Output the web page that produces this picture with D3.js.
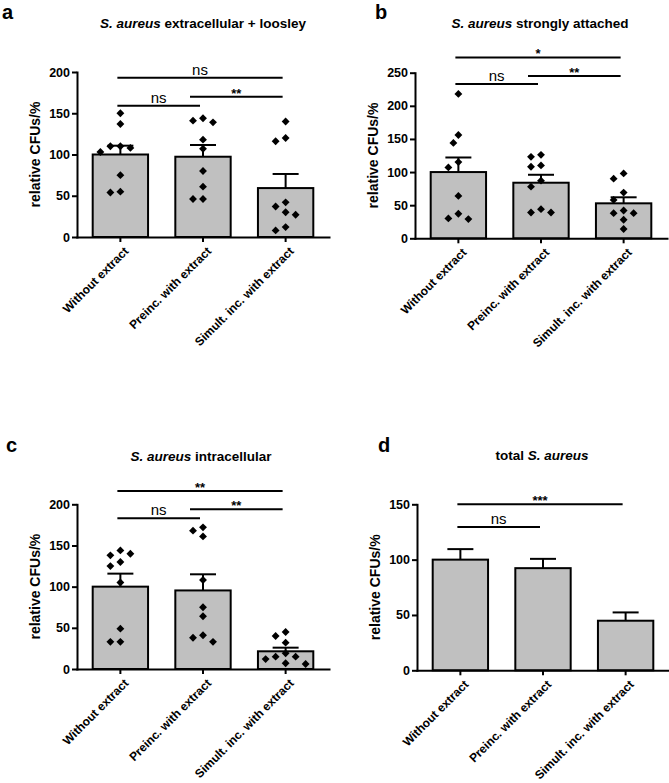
<!DOCTYPE html>
<html>
<head>
<meta charset="utf-8">
<script src="https://cdn.jsdelivr.net/npm/d3@7"></script>
<style>
  body { margin: 0; background: #fff; }
  text { font-family: "Liberation Sans", Arial, sans-serif; fill: #000; }
</style>
</head>
<body>
<svg id="fig" width="669" height="783"></svg>
<script>
// group names on the x axis (same for every panel)
var groups = ['Without extract', 'Preinc. with extract', 'Simult. inc. with extract']

// panel a: extracellular + loosely attached
var aMean = [100, 97.3, 59.3]
var aSem = [10.7, 14.2, 17.1]
var aPoints = [
  [150, 137, 110, 110, 108, 103, 75, 55, 54],
  [144, 141, 139, 118, 107, 80, 61, 46, 46],
  [140, 120, 116, 42, 37, 30, 27, 12, 8]
]
var aTicks = [0, 50, 100, 150, 200]
var aSig = [
  { from: 0, to: 2, label: 'ns', level: 193 },
  { from: 1, to: 2, label: '**', level: 170 },
  { from: 0, to: 1, label: 'ns', level: 159 }
]

// panel b: strongly attached
var bMean = [100, 83.9, 52.8]
var bSem = [22, 12, 9.1]
var bPoints = [
  [218, 156, 144, 115, 107, 64, 37, 30, 29],
  [126, 123, 110, 108, 87, 78, 44, 39, 39],
  [98, 90, 69, 58, 42, 38, 38, 28, 14]
]
var bTicks = [0, 50, 100, 150, 200, 250]
var bSig = [
  { from: 0, to: 2, label: '*', level: 273 },
  { from: 1, to: 2, label: '**', level: 245 },
  { from: 0, to: 1, label: 'ns', level: 233 }
]

// panel c: intracellular
var cMean = [100, 95.4, 21.5]
var cSem = [15.8, 19.6, 4.4]
var cPoints = [
  [144, 138, 140, 130, 125, 105, 49, 33, 33],
  [172, 168, 161, 108, 75, 64, 41, 38, 33],
  [45, 40, 32, 19, 15, 15, 12, 7, 6]
]
var cTicks = [0, 50, 100, 150, 200]
var cSig = [
  { from: 0, to: 2, label: '**', level: 216 },
  { from: 1, to: 2, label: '**', level: 194 },
  { from: 0, to: 1, label: 'ns', level: 183 }
]

// panel d: total (no single points)
var dMean = [100, 92.3, 44.8]
var dSem = [9.5, 8.4, 7.5]
var dTicks = [0, 50, 100, 150]
var dSig = [
  { from: 0, to: 2, label: '***', level: 150 },
  { from: 0, to: 1, label: 'ns', level: 129.6 }
]

// layout of the four panels
var panels = [
  { letter: 'a', lx: 2, ly: 19, title: ['S. aureus', ' extracellular + loosley'], tx: 203, ty: 28,
    axisX: 77, top: 72, bottom: 237, ticks: aTicks, mean: aMean, sem: aSem, points: aPoints, sig: aSig },
  { letter: 'b', lx: 375, ly: 19, title: ['S. aureus', ' strongly attached'], tx: 540, ty: 28,
    axisX: 415, top: 72.7, bottom: 238.3, ticks: bTicks, mean: bMean, sem: bSem, points: bPoints, sig: bSig },
  { letter: 'c', lx: 6, ly: 452, title: ['S. aureus', ' intracellular'], tx: 201, ty: 461,
    axisX: 77, top: 504.3, bottom: 669, ticks: cTicks, mean: cMean, sem: cSem, points: cPoints, sig: cSig },
  { letter: 'd', lx: 378, ly: 452, title: ['total ', 'S. aureus'], tx: 542, ty: 460,
    axisX: 417, top: 504.3, bottom: 670.3, ticks: dTicks, mean: dMean, sem: dSem, points: null, sig: dSig }
]

var svg = d3.select('#fig')
var diamond = d3.symbol().type(d3.symbolSquare).size(31)

// simple beeswarm: push points sideways until they do not overlap
function swarm (vals, y) {
  var placed = []
  var step = 5
  var minDist = 9
  return vals.map(function (v) {
    var py = y(v)
    var k = 0
    var dx = 0
    while (true) {
      dx = k === 0 ? 0 : (k % 2 === 1 ? -1 : 1) * Math.ceil(k / 2) * step
      var hit = placed.some(function (p) {
        return Math.hypot(p.dx - dx, p.py - py) < minDist
      })
      if (!hit) break
      k++
    }
    placed.push({ dx: dx, py: py })
    return { v: v, dx: dx, py: py }
  })
}

panels.forEach(function (p) {
  var g = svg.append('g')
  var yMax = p.ticks[p.ticks.length - 1]

  var x = d3.scaleBand()
    .domain(groups)
    .range([p.axisX, p.axisX + 252])
    .paddingInner(0.33)
    .paddingOuter(0.19)
  var y = d3.scaleLinear().domain([0, yMax]).range([p.bottom, p.top])

  // panel letter and title
  g.append('text')
    .attr('x', p.lx).attr('y', p.ly)
    .attr('font-size', 20).attr('font-weight', 'bold')
    .text(p.letter)
  var t = g.append('text')
    .attr('x', p.tx).attr('y', p.ty)
    .attr('text-anchor', 'middle')
    .attr('font-size', 13.5).attr('font-weight', 'bold')
  t.append('tspan').attr('font-style', p.letter === 'd' ? 'normal' : 'italic').text(p.title[0])
  t.append('tspan').attr('font-style', p.letter === 'd' ? 'italic' : 'normal').text(p.title[1])

  // bars
  g.selectAll('rect.bar')
    .data(groups)
    .enter()
    .append('rect')
    .attr('class', 'bar')
    .attr('x', function (d) { return x(d) })
    .attr('y', function (d, i) { return y(p.mean[i]) })
    .attr('width', x.bandwidth())
    .attr('height', function (d, i) { return p.bottom - y(p.mean[i]) })
    .attr('fill', '#c0c0c0')
    .attr('stroke', '#000')
    .attr('stroke-width', 2)

  // error bars (upper half only)
  groups.forEach(function (d, i) {
    var cx = x(d) + x.bandwidth() / 2
    var y0 = y(p.mean[i])
    var y1 = y(p.mean[i] + p.sem[i])
    g.append('line')
      .attr('x1', cx).attr('x2', cx).attr('y1', y0).attr('y2', y1)
      .attr('stroke', '#000').attr('stroke-width', 2)
    g.append('line')
      .attr('x1', cx - 13).attr('x2', cx + 13).attr('y1', y1).attr('y2', y1)
      .attr('stroke', '#000').attr('stroke-width', 2)
  })

  // single values as diamonds
  if (p.points) {
    p.points.forEach(function (vals, i) {
      var cx = x(groups[i]) + x.bandwidth() / 2
      g.selectAll(null)
        .data(swarm(vals, y))
        .enter()
        .append('path')
        .attr('d', diamond)
        .attr('fill', '#000')
        .attr('transform', function (d) {
          return 'translate(' + (cx + d.dx) + ',' + d.py + ') rotate(45)'
        })
    })
  }

  // y axis
  var yAxis = g.append('g')
    .attr('transform', 'translate(' + p.axisX + ',0)')
    .call(d3.axisLeft(y).tickValues(p.ticks).tickSize(5).tickSizeOuter(0).tickPadding(2))
  yAxis.select('.domain').attr('stroke-width', 2).attr('stroke-linecap', 'square')
  yAxis.selectAll('.tick line').attr('stroke-width', 2)
  yAxis.selectAll('.tick text')
    .attr('font-size', 12.5).attr('font-weight', 'bold')
    .attr('font-family', '"Liberation Sans", Arial, sans-serif')

  // x axis
  var xAxis = g.append('g')
    .attr('transform', 'translate(0,' + p.bottom + ')')
    .call(d3.axisBottom(x).tickSize(5).tickSizeOuter(0))
  xAxis.select('.domain').attr('stroke-width', 2).attr('stroke-linecap', 'square')
  xAxis.selectAll('.tick line').attr('stroke-width', 2)
  xAxis.selectAll('.tick text')
    .attr('font-size', 12).attr('font-weight', 'bold')
    .attr('font-family', '"Liberation Sans", Arial, sans-serif')
    .attr('text-anchor', 'end')
    .attr('x', 0).attr('y', 0).attr('dy', '0.35em')
    .attr('transform', 'translate(6,12) rotate(-45)')

  // y axis title
  g.append('text')
    .attr('transform', 'translate(' + (p.axisX - 37) + ',' + ((p.top + p.bottom) / 2) + ') rotate(-90)')
    .attr('text-anchor', 'middle')
    .attr('font-size', 14).attr('font-weight', 'bold')
    .text('relative CFUs/%')

  // significance brackets
  p.sig.forEach(function (s) {
    var x1 = x(groups[s.from]) + x.bandwidth() / 2 - 3 - (s.from === 1 ? 10 : 0)
    var x2 = x(groups[s.to]) + x.bandwidth() / 2 - 3
    var ly = y(s.level)
    g.append('line')
      .attr('x1', x1).attr('x2', x2).attr('y1', ly).attr('y2', ly)
      .attr('stroke', '#000').attr('stroke-width', 2)
    var isNs = s.label === 'ns'
    g.append('text')
      .attr('x', (x1 + x2) / 2)
      .attr('y', isNs ? ly - 3 : ly + 1)
      .attr('text-anchor', 'middle')
      .attr('font-size', isNs ? 15 : 13)
      .attr('font-weight', isNs ? 'normal' : 'bold')
      .text(s.label)
  })
})
</script>
</body>
</html>
